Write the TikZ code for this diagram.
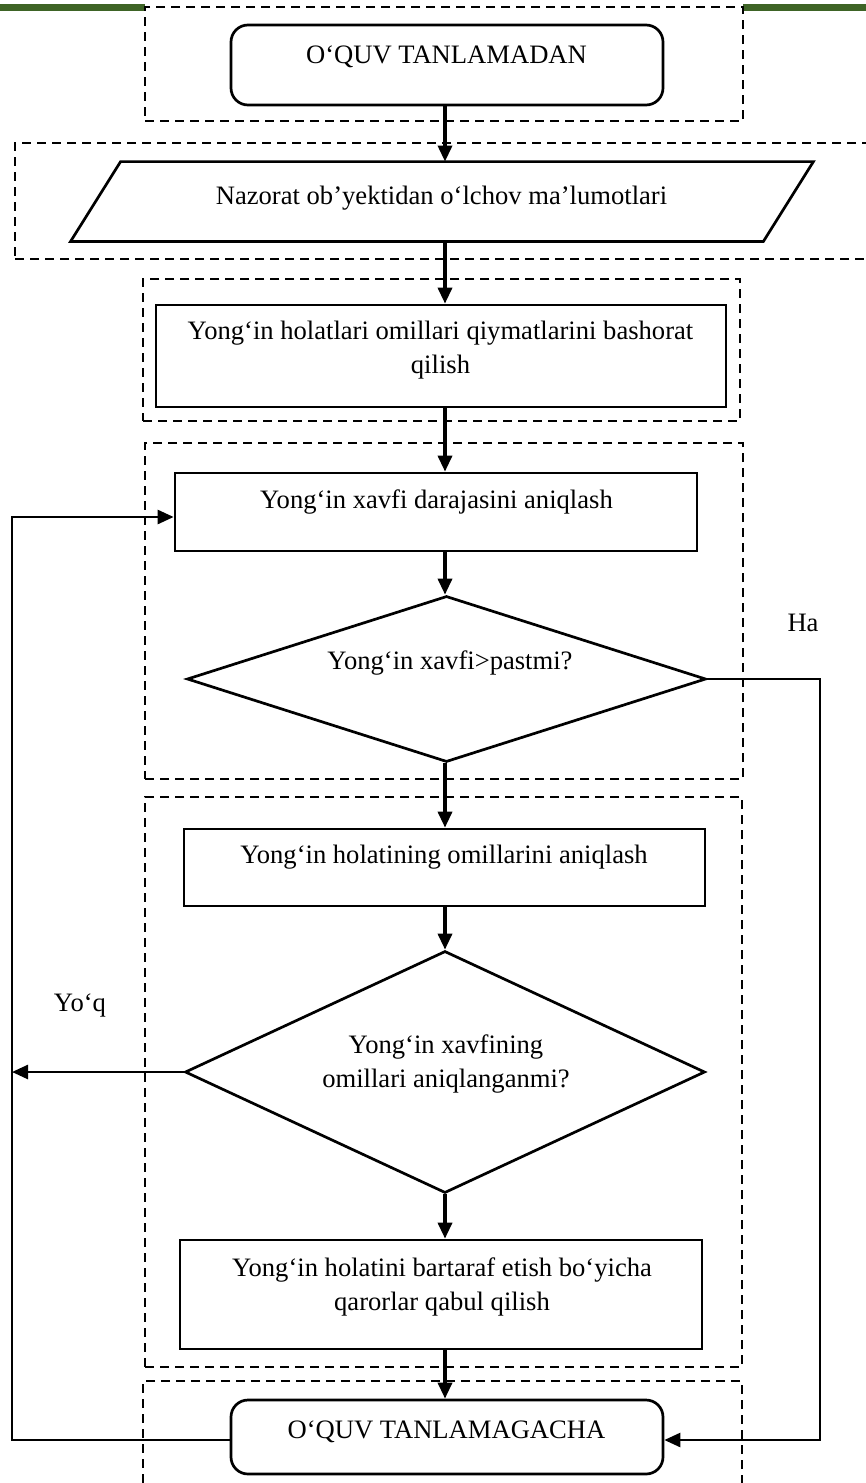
\documentclass[tikz,border=0pt]{standalone}
\usepackage{fontspec}
\setmainfont{Liberation Serif}
\usetikzlibrary{arrows.meta,shapes.geometric,fit}
\definecolor{barGreen}{RGB}{62,100,38}
\tikzset{
 dashbox/.style={draw, line width=1.1pt, dash pattern=on 4.5pt off 3pt, fill=white, inner sep=0pt},
 shapebox/.style={draw, line width=1.35pt, fill=white, inner sep=0pt},
 flowarrow/.style={line width=1.7pt, -{Triangle[length=8pt,width=7pt]}},
 looparrow/.style={line width=1.3pt, -{Triangle[length=8pt,width=7pt]}},
 txt/.style={inner sep=0pt, anchor=base, font=\fontsize{13.3}{17}\selectfont, align=center},
}
\begin{document}
\begin{tikzpicture}[x=0.5pt,y=-0.5pt]
\useasboundingbox (0,0) rectangle (866,1483);
% top bar
\fill[barGreen] (0,4) rectangle (145,11);
\fill[barGreen] (743,4) rectangle (866,11);
% dashed groups
\node[dashbox, fit={(145,7) (743,121)}] (g1) {};
\node[dashbox, fit={(15,143) (880,259)}] (g2) {};
\node[dashbox, fit={(143,279) (740,421)}] (g3) {};
\node[dashbox, fit={(145,443) (743,779)}] (g4) {};
\node[dashbox, fit={(145,797) (742,1367)}] (g5) {};
\node[dashbox, fit={(143,1381) (742,1500)}] (g6) {};
% shapes
\node[shapebox, rounded corners=8.5pt, fit={(231,25) (663,105)}] (start) {};
\node[inner sep=0pt, fit={(71,162) (813,241)}] (par) {};
\draw[line width=1.35pt, fill=white] ([xshift=25pt]par.north west) -- (par.north east) -- ([xshift=-25pt]par.south east) -- (par.south west) -- cycle;
\node[shapebox, fit={(156,305) (726,407)}] (r3) {};
\node[shapebox, fit={(175,473) (697,551)}] (r4) {};
\node[shapebox, diamond, minimum width=259.5pt, minimum height=83pt] (d1) at (446.5,679) {};
\node[shapebox, fit={(184,829) (705,906)}] (r5) {};
\node[shapebox, diamond, minimum width=260pt, minimum height=121pt] (d2) at (445,1072) {};
\node[shapebox, fit={(180,1240) (702,1349)}] (r6) {};
\node[shapebox, rounded corners=8.5pt, fit={(231,1400) (663,1474)}] (fin) {};
% texts
\node[txt] (t1) at (446.5,63) {O‘QUV TANLAMADAN};
\node[txt] (t2) at (441.5,204) {Nazorat ob’yektidan o‘lchov ma’lumotlari};
\node[txt] (t3) at (440.5,373) {Yong‘in holatlari omillari qiymatlarini bashorat\\qilish};
\node[txt] (t4) at (436.5,508) {Yong‘in xavfi darajasini aniqlash};
\node[txt] (t5) at (450,669) {Yong‘in xavfi>pastmi?};
\node[txt] (t6) at (444,863) {Yong‘in holatining omillarini aniqlash};
\node[txt] (t7) at (446,1087) {Yong‘in xavfining\\omillari aniqlanganmi?};
\node[txt] (t8) at (442,1310) {Yong‘in holatini bartaraf etish bo‘yicha\\qarorlar qabul qilish};
\node[txt] (t9) at (446.5,1438) {O‘QUV TANLAMAGACHA};
\node[txt] (ha) at (803,631) {Ha};
\node[txt] (yoq) at (80,1011) {Yo‘q};
% connectors
\coordinate (ax) at (445,0);
\coordinate (lx) at (12,0);
\coordinate (rx) at (820,0);
\draw[flowarrow] (start.south -| ax) -- (par.north -| ax);
\draw[flowarrow] (par.south -| ax) -- (r3.north -| ax);
\draw[flowarrow] (r3.south -| ax) -- (r4.north -| ax);
\draw[flowarrow] (r4.south -| ax) -- (d1.north -| ax);
\draw[flowarrow] (d1.south -| ax) -- (r5.north -| ax);
\draw[flowarrow] (r5.south -| ax) -- (d2.north -| ax);
\draw[flowarrow] (d2.south -| ax) -- (r6.north -| ax);
\draw[flowarrow] (r6.south -| ax) -- (fin.north -| ax);
\draw[looparrow] ([yshift=-1.5pt]fin.west) -- ([yshift=-1.5pt]fin.west -| lx) -- ([yshift=-2.5pt]r4.west -| lx) -- ([yshift=-2.5pt]r4.west);
\draw[looparrow] (d2.west) -- (d2.west -| lx);
\draw[looparrow] (d1.east) -- (d1.east -| rx) -- ([yshift=-1.5pt]fin.east -| rx) -- ([yshift=-1.5pt]fin.east);
\end{tikzpicture}
\end{document}
